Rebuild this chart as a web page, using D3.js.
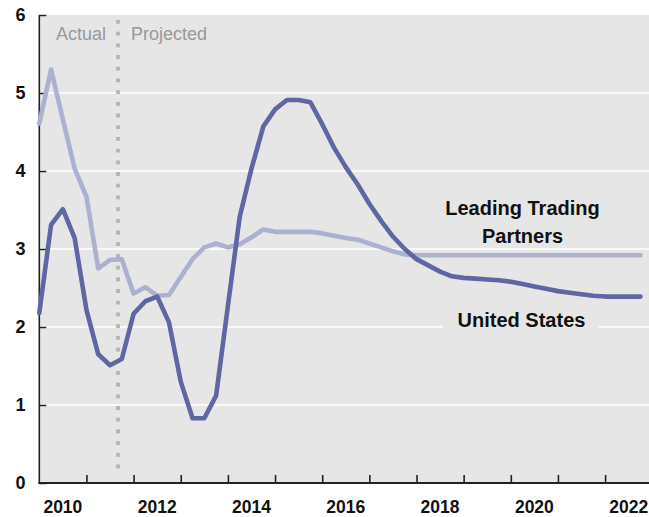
<!DOCTYPE html>
<html>
<head>
<meta charset="utf-8">
<script src="https://cdn.jsdelivr.net/npm/d3@7"></script>
<style>
  html, body { margin: 0; padding: 0; background: #ffffff; }
  svg { display: block; }
</style>
</head>
<body>
<svg id="chart" width="649" height="517"></svg>
<script>
// ---------- data ----------
const years = [2010, 2011, 2012, 2013, 2014, 2015, 2016, 2017, 2018, 2019, 2020, 2021, 2022];
const quarterNames = ["Q1", "Q2", "Q3", "Q4"];
const unitedStates = [2.18, 3.31, 3.51, 3.14, 2.22, 1.65, 1.51, 1.59, 2.17, 2.33,
  2.39, 2.06, 1.30, 0.83, 0.83, 1.12, 2.27, 3.41, 4.03, 4.57,
  4.79, 4.91, 4.91, 4.88, 4.60, 4.30, 4.05, 3.83, 3.58, 3.36,
  3.16, 3.00, 2.87, 2.79, 2.71, 2.65, 2.63, 2.62, 2.61, 2.60,
  2.58, 2.55, 2.52, 2.49, 2.46, 2.44, 2.42, 2.40, 2.39, 2.39,
  2.39, 2.39];
const tradingPartners = [4.61, 5.30, 4.66, 4.03, 3.67, 2.75, 2.86, 2.87, 2.43, 2.51,
  2.40, 2.41, 2.64, 2.87, 3.02, 3.07, 3.02, 3.06, 3.15, 3.25,
  3.22, 3.22, 3.22, 3.22, 3.20, 3.17, 3.14, 3.12, 3.07, 3.02,
  2.97, 2.93, 2.92, 2.92, 2.92, 2.92, 2.92, 2.92, 2.92, 2.92,
  2.92, 2.92, 2.92, 2.92, 2.92, 2.92, 2.92, 2.92, 2.92, 2.92,
  2.92, 2.92];
const yTicks = [0, 1, 2, 3, 4, 5, 6];
const xLabelYears = [2010, 2012, 2014, 2016, 2018, 2020, 2022];
const projectionStart = 2011.67;

// quarterly periods (categories)
const quarters = [];
years.forEach(yr => quarterNames.forEach((q, i) => quarters.push({ label: yr + q, t: yr + i * 0.25 })));

// ---------- layout ----------
const W = 649;
const mLeft = 39.3, mTop = 15, mBottom = 483;
const svg = d3.select("#chart");
const x = d3.scaleLinear().domain([2010, 2023]).range([mLeft, 652.25]);
const y = d3.scaleLinear().domain([0, 6]).range([mBottom, mTop]);
const FONT = "'Liberation Sans', Arial, sans-serif";

// background
svg.append("rect").attr("x", mLeft).attr("y", mTop)
  .attr("width", W - mLeft).attr("height", mBottom - mTop).attr("fill", "#e6e6e6");

// grid lines
svg.append("g").selectAll("line").data(yTicks.filter(d => d > 0 && d < 6)).join("line")
  .attr("x1", mLeft).attr("x2", W).attr("y1", d => y(d)).attr("y2", d => y(d))
  .attr("stroke", "#ffffff").attr("stroke-width", 1.6);

// x axis (ticks every year, inward)
const xAxis = d3.axisTop(x).tickValues(d3.range(2011, 2023)).tickSize(8).tickFormat("");
const gx = svg.append("g").attr("transform", `translate(0,${mBottom})`).call(xAxis);
gx.select(".domain").remove();
gx.selectAll(".tick line").attr("stroke", "#222").attr("stroke-width", 1.6);

// y axis (ticks inward)
const yAxis = d3.axisRight(y).tickValues(yTicks).tickSize(7).tickFormat("");
const gy = svg.append("g").attr("transform", `translate(${mLeft},0)`).call(yAxis);
gy.select(".domain").remove();
gy.selectAll(".tick line").attr("stroke", "#222").attr("stroke-width", 1.5);

// axis lines
svg.append("line").attr("x1", mLeft).attr("x2", mLeft).attr("y1", mTop).attr("y2", mBottom)
  .attr("stroke", "#222").attr("stroke-width", 1.6);
svg.append("line").attr("x1", mLeft - 1).attr("x2", W).attr("y1", mBottom).attr("y2", mBottom)
  .attr("stroke", "#222").attr("stroke-width", 2.2);

// y labels
svg.append("g").selectAll("text").data(yTicks).join("text")
  .attr("x", 25.5).attr("y", d => y(d)).attr("dy", "0.36em")
  .attr("text-anchor", "end").attr("font-family", FONT).attr("font-weight", "bold")
  .attr("font-size", 18).attr("fill", "#111").text(d => d);

// x labels (centered in year band)
svg.append("g").selectAll("text").data(xLabelYears).join("text")
  .attr("x", d => x(d + 0.5)).attr("y", 513)
  .attr("text-anchor", "middle").attr("font-family", FONT).attr("font-weight", "bold")
  .attr("font-size", 17.5).attr("fill", "#111").text(d => d);

// projection divider
const px = x(projectionStart);
svg.append("line").attr("x1", px).attr("x2", px).attr("y1", 20).attr("y2", 476)
  .attr("stroke", "#b3b3b3").attr("stroke-width", 3.8).attr("stroke-dasharray", "3.8 7.9");
svg.append("text").attr("x", px - 12).attr("y", 40).attr("text-anchor", "end")
  .attr("font-family", FONT).attr("font-size", 18).attr("fill", "#999").text("Actual");
svg.append("text").attr("x", px + 13).attr("y", 40).attr("text-anchor", "start")
  .attr("font-family", FONT).attr("font-size", 18).attr("fill", "#999").text("Projected");

// lines
const line = d3.line().x((d, i) => x(quarters[i].t)).y(d => y(d)).curve(d3.curveLinear);
svg.append("path").datum(tradingPartners).attr("d", line).attr("fill", "none")
  .attr("stroke", "#adb1d1").attr("stroke-width", 4.6)
  .attr("stroke-linejoin", "round").attr("stroke-linecap", "round");
svg.append("path").datum(unitedStates).attr("d", line).attr("fill", "none")
  .attr("stroke", "#5e67a2").attr("stroke-width", 4.6)
  .attr("stroke-linejoin", "round").attr("stroke-linecap", "round");

// series labels
const lab = svg.append("g").attr("font-family", FONT).attr("font-weight", "bold")
  .attr("font-size", 20).attr("fill", "#111").attr("text-anchor", "middle");
lab.append("text").attr("x", 522.5).attr("y", 215).text("Leading Trading");
lab.append("text").attr("x", 522.5).attr("y", 242.5).text("Partners");
svg.append("rect").attr("x", 443).attr("y", 306).attr("width", 156).attr("height", 26)
  .attr("fill", "#e6e6e6");
lab.raise();
lab.append("text").attr("x", 521.5).attr("y", 326.5).text("United States");
</script>
</body>
</html>
